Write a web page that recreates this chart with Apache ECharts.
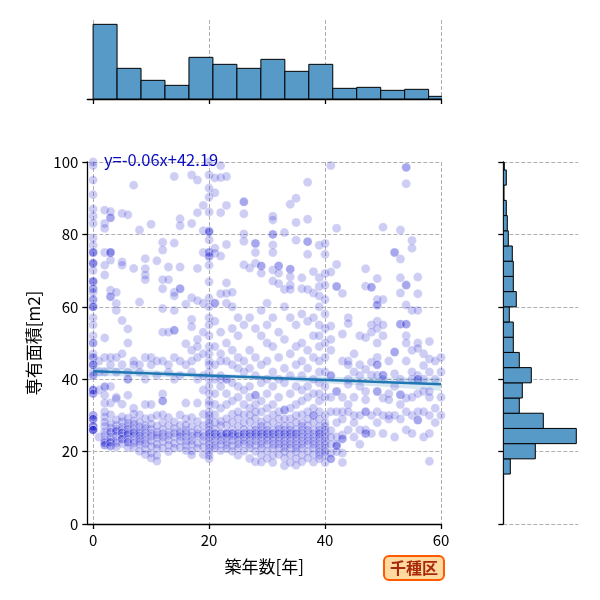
<!DOCTYPE html>
<html>
<head>
<meta charset="utf-8">
<script src="https://cdn.jsdelivr.net/npm/echarts@6/dist/echarts.min.js"></script>
<style>html,body{margin:0;padding:0;background:#fff}#main{width:600px;height:600px}</style>
</head>
<body>
<div id="main"></div>
<script>
const FONT = '"Noto Sans CJK JP", "Noto Sans", sans-serif';

// 築年数 -> 専有面積
const areasByAge = [
  [0, [100, 99, 95, 91, 87, 85, 83, 79, 77, 75, 75, 75, 72, 72, 72, 70, 67, 67, 67, 65, 65, 64, 62, 62, 60, 60, 60, 57, 55, 52, 50, 50, 47, 46, 46, 44, 44, 44, 42, 41, 41, 37, 37, 37, 36, 36, 30, 30, 29, 29, 29, 27, 27, 27, 26, 26, 26, 26]],
  [1, [45, 42, 37, 24]],
  [2, [86.7, 83, 81.7, 75, 71.5, 68.8, 51.4, 46, 42, 38, 37.8, 35.6, 33.4, 31, 29.6, 28.2, 27, 25.5, 24.6, 23.2, 22.5, 22.5, 21.8, 21.8]],
  [3, [86.3, 84.6, 84.6, 75, 75, 75, 72.9, 64.6, 62.8, 62.8, 46, 44, 38, 33.4, 30.2, 27.8, 26.6, 25.4, 25.4, 24.1, 23.3, 22.6, 22.6, 21.5, 21.5]],
  [4, [64, 60.9, 59, 46, 42, 35, 34.6, 28.8, 27.3, 26.2, 25.6, 25.6, 24.3, 23.1, 22.4, 21.3]],
  [5, [85.8, 72.4, 71.5, 56.2, 47, 44, 33.1, 29.6, 28.3, 26.8, 26.1, 25.2, 25.2, 24.4, 23.5, 23.5, 22.2]],
  [6, [85.4, 53.9, 50, 42, 40, 40, 35.6, 29.2, 27.9, 27.1, 26.2, 25.3, 24.8, 24.8, 23.4, 22.6, 22.6, 21.1]],
  [7, [93.6, 70.6, 45, 44, 32, 30.4, 28.5, 27.6, 26.4, 25.3, 25.3, 24.4, 23.2, 22.4, 21.2]],
  [8, [81.2, 61.3, 44, 42, 30.2, 28.1, 26.9, 25.8, 25.1, 24.4, 23.6, 22.8, 22, 20.1]],
  [9, [73.3, 70.5, 68.8, 67.5, 46, 40, 33, 29.1, 27.2, 26.4, 25.2, 24.3, 23.1, 22.2, 20.8, 19.2]],
  [10, [82.8, 46, 44, 33, 29.3, 27.6, 26.2, 25.1, 24.2, 22.9, 21.5, 19.6, 18.2]],
  [11, [72.7, 45, 41, 30, 27.1, 25.4, 24.6, 23.8, 22.1, 21, 19, 17.4]],
  [12, [77.8, 75.7, 67.5, 65, 59.5, 53, 45, 35.9, 34, 34, 30.2, 28.1, 26.2, 25, 24.1, 22.8, 21]],
  [13, [71, 67.5, 53, 44, 42, 29.4, 27.2, 25.3, 24.5, 23.2, 21.8, 20]],
  [14, [96, 77.6, 64, 63, 59, 53.5, 53.5, 46, 40, 28.2, 26.4, 25.2, 24.1, 22.3, 21]],
  [15, [84.3, 82.4, 71, 65, 65, 45, 41, 30.1, 27.3, 25.5, 25, 24.2, 23, 21.2]],
  [16, [60.7, 49.8, 44, 33.4, 29.1, 27.4, 26, 25.2, 24.1, 22.9, 21.7, 20.3]],
  [17, [96.4, 83, 62.5, 56.5, 54.5, 48, 45, 42, 29.4, 27.1, 25.3, 24.3, 23.1, 22, 20.2, 19.1]],
  [18, [95, 86, 70.6, 61.7, 51, 49, 46, 40, 33.4, 28.3, 26.2, 25, 24.4, 22.3, 21]],
  [19, [88, 81, 75, 61, 53, 47, 41, 37, 30.3, 27.2, 25.1, 24.2, 23, 21.3, 19.2]],
  [20, [100, 96.4, 92.8, 90.3, 86.2, 81, 80.7, 80.7, 78.5, 75.1, 75, 73.8, 74, 71.5, 66.9, 62.4, 60, 57, 55, 52, 49, 47, 45, 44, 42, 40, 38, 36, 34, 33, 31, 30, 29, 28, 27, 26, 25, 25, 24, 23, 22, 21, 20, 19, 18]],
  [21, [95.6, 91.5, 76.2, 74.8, 61, 61, 56, 49, 44, 40, 36, 33, 30.2, 28.1, 26.3, 25, 25, 24.1, 23, 21.8, 20.9]],
  [22, [99, 95.7, 86, 74, 63.6, 53, 47, 45, 41, 40, 38, 32, 28.4, 27.2, 25, 25, 24.2, 23.1, 22, 20.3]],
  [23, [96, 88, 77.2, 66.6, 63.7, 61, 50, 45, 40, 40, 36, 33, 29.1, 27.3, 25, 25, 25, 24, 22.8, 21.9, 20.8]],
  [24, [64, 60, 54, 48, 44, 39, 34, 30.3, 28.2, 26.1, 25, 25, 24.2, 23.1, 21.7, 20.1]],
  [25, [57, 52, 46, 43, 38, 35, 31, 29.2, 27.1, 25, 25, 24.3, 23.2, 22.1, 21, 19]],
  [26, [89, 89, 85.7, 80.1, 78.1, 71.6, 55, 45, 42, 37, 33, 30.2, 28, 26.2, 25, 25, 24.1, 23, 22.2, 20.2]],
  [27, [70.7, 57, 48, 43, 38, 35, 32, 30.1, 28.3, 26.1, 25, 25, 24.2, 23.1, 22, 21, 18.1]],
  [28, [77.5, 77.5, 75, 72, 54, 46, 41, 35.6, 35.6, 33, 31, 29.2, 27.1, 26, 25, 25, 24.1, 23, 21.8, 20.1, 17.2]],
  [29, [71.3, 71.3, 69.3, 59, 52, 44, 39, 34, 31, 28.2, 27.1, 26, 25, 25, 24.1, 23, 22, 21, 19.1, 17.1]],
  [30, [61, 55, 50, 45, 40, 36, 32, 29.1, 27.2, 26, 25, 25, 24, 23.1, 22, 20.2, 18.1]],
  [31, [85, 84, 80, 80, 77.1, 75, 70.2, 67.1, 57, 49, 42, 38, 33, 30.2, 28.1, 26, 25, 25, 24, 23.1, 22, 21, 19, 17]],
  [32, [71.3, 71.3, 69.3, 66.4, 53, 46, 40, 35, 31, 29.1, 27, 26.2, 25, 25, 24, 23, 22.1, 21, 19.2]],
  [33, [80.5, 64.8, 60, 51, 43, 39, 31.5, 31.5, 29, 27.2, 26, 25, 25, 24, 23, 22, 21.1, 20, 18.2, 16.1]],
  [34, [88.3, 70.4, 70.4, 68.3, 66, 64.8, 57, 47, 41, 36, 32, 29.1, 27.1, 26, 25, 25, 24, 23, 22, 21, 19.2, 17]],
  [35, [90, 83.3, 78.4, 55, 49, 44, 38, 33, 30, 28.1, 26.2, 25, 25, 24, 23, 22, 21, 20, 18.1, 16.2]],
  [36, [68, 65, 58, 50, 45, 41, 37, 34, 30.2, 28, 27, 26, 25, 24.1, 23, 22, 21, 19.1, 17.2]],
  [37, [94.4, 84.2, 78, 78, 74.5, 64.8, 56, 48, 43, 38, 35, 31, 29, 27.2, 26, 25, 24, 23, 22, 20.1, 18.2]],
  [38, [69.7, 63.8, 57, 52, 46, 40, 36, 32, 30, 30, 28.1, 26, 25, 24, 23, 22, 21, 19.2, 17.1]],
  [39, [77, 68, 65.6, 63, 60, 55, 52, 49, 45, 42, 39, 36, 34, 31, 29, 27, 26, 25, 25, 24, 23, 22, 21, 20, 19, 18]],
  [40, [77.5, 74.5, 69.2, 66, 62, 58, 54, 50, 46, 42, 38, 35, 30, 28, 27, 26, 25, 24, 23, 22, 21, 20, 19, 17]],
  [41, [99, 69.6, 54.7, 51, 48, 41, 41, 35, 31, 25.8, 24, 22, 19.6, 18, 18]],
  [42, [81.7, 71.7, 65.6, 65.6, 36.6, 36.6, 31, 28, 24, 22, 21.6, 21.6, 20]],
  [43, [63.7, 52.5, 45, 35, 31, 29, 24.6, 23.5, 23.5, 19.6, 17]],
  [44, [57, 55.4, 45, 44, 40, 38.6, 33, 31, 26]],
  [45, [47, 42, 35, 30, 28, 24]],
  [46, [52, 44, 41, 38, 30, 26, 22]],
  [47, [70.5, 65.7, 51.5, 42.7, 36.6, 34.3, 31, 31, 26, 25, 25]],
  [48, [65.4, 65.4, 55, 53, 44.7, 41.1, 30, 25]],
  [49, [67.8, 62, 60.5, 60.5, 56, 54, 50, 46, 44, 44, 41.1, 36.6, 36.6, 31, 28]],
  [50, [82, 62, 55, 52, 41.1, 41.1, 40, 34.8, 30, 25]],
  [51, [45, 36, 34.3, 30, 29]],
  [52, [75, 75, 47.5, 47.5, 41.5, 38, 30, 24]],
  [53, [81.2, 73.2, 68, 63.8, 55.2, 55.2, 40, 35.7, 35.7, 33, 29]],
  [54, [98.5, 98.5, 94, 66, 66, 60.5, 55.2, 55.2, 52, 50, 45, 34.8, 31, 26]],
  [55, [78.3, 76.2, 59, 48, 42, 40, 35, 30, 25]],
  [56, [68.2, 63.6, 59, 50, 48.5, 41, 40, 40, 36, 31, 28.7, 28.7]],
  [57, [47, 43.8, 40, 36.6, 31, 24]],
  [58, [50.4, 45.6, 42, 36.6, 35, 30, 25, 17.3]],
  [59, [45, 40, 32, 28]],
  [60, [46, 42, 35, 30]]
];

const ageTicks = [0, 20, 40, 60];
const ageBinWidth = 62 / 15;
const ageCounts = [224, 92, 56, 41, 125, 104, 92, 119, 83, 104, 32, 35, 26, 29, 8];
const areaBinStart = 13.8;
const areaBinWidth = 4.2;
const areaCounts = [21, 96, 219, 120, 48, 57, 84, 48, 30, 30, 18, 39, 30, 30, 27, 15, 12, 9, 2, 9, 3];
const fitSlope = -0.06;
const fitIntercept = 42.19;
const bandAges = [0, 10, 20, 30, 40, 50, 60];
const bandHalf = [1.3, 0.9, 0.6, 0.6, 0.9, 1.3, 1.8];
const wardName = '千種区';

const points = [];
areasByAge.forEach(([age, list]) => list.forEach(a => points.push([age, a])));
const fit = x => fitSlope * x + fitIntercept;

const gridLine = { show: true, lineStyle: { color: '#b0b0b0', type: [4, 2], width: 1 } };
const spine = { show: true, onZero: false, lineStyle: { color: '#000', width: 1.3 } };
const tick = { show: true, length: 5, lineStyle: { color: '#000', width: 1.3 } };
const label = { color: '#000', fontSize: 15, fontFamily: FONT, margin: 9 };

function histRect(horizontal) {
  return function (params, api) {
    const a = api.value(0), b = api.value(1), c = api.value(2);
    let p0, p1;
    if (horizontal) {
      p0 = api.coord([0, a]);
      p1 = api.coord([c, b]);
    } else {
      p0 = api.coord([a, 0]);
      p1 = api.coord([b, c]);
    }
    return {
      type: 'rect',
      shape: {
        x: Math.min(p0[0], p1[0]), y: Math.min(p0[1], p1[1]),
        width: Math.abs(p1[0] - p0[0]), height: Math.abs(p1[1] - p0[1])
      },
      style: { fill: '#5799c7', stroke: '#000', lineWidth: 1 }
    };
  };
}

const chart = echarts.init(document.getElementById('main'));
chart.setOption({
  animation: false,
  grid: [
    { left: 87.3, top: 162, width: 353.7, height: 362, outerBoundsMode: 'none' },
    { left: 87.3, top: 20, width: 353.7, height: 79, outerBoundsMode: 'none' },
    { left: 503.3, top: 162, width: 75, height: 362, outerBoundsMode: 'none' }
  ],
  xAxis: [
    {
      gridIndex: 0, type: 'value', min: -1, max: 60,
      axisLine: spine,
      axisTick: Object.assign({ customValues: ageTicks }, tick),
      axisLabel: Object.assign({ customValues: ageTicks }, label),
      splitLine: gridLine,
      name: '築年数[年]', nameLocation: 'middle', nameGap: 34,
      nameTextStyle: { color: '#000', fontSize: 17, fontFamily: FONT }
    },
    {
      gridIndex: 1, type: 'value', min: -1, max: 60,
      axisLine: spine,
      axisTick: Object.assign({ customValues: ageTicks }, tick),
      axisLabel: { show: false, customValues: ageTicks },
      splitLine: gridLine
    },
    { gridIndex: 2, type: 'value', min: 0, max: 225, show: false }
  ],
  yAxis: [
    {
      gridIndex: 0, type: 'value', min: 0, max: 100, interval: 20,
      axisLine: spine, axisTick: tick, axisLabel: label, splitLine: gridLine,
      name: '専有面積[m2]', nameLocation: 'middle', nameGap: 44, nameRotate: 90,
      nameTextStyle: { color: '#000', fontSize: 17, fontFamily: FONT }
    },
    { gridIndex: 1, type: 'value', min: 0, max: 237, show: false },
    {
      gridIndex: 2, type: 'value', min: 0, max: 100, interval: 20,
      axisLine: spine, axisTick: tick, axisLabel: { show: false }, splitLine: gridLine
    }
  ],
  series: [
    {
      type: 'scatter', xAxisIndex: 0, yAxisIndex: 0, data: points,
      symbolSize: 9, silent: true,
      itemStyle: { color: 'rgba(0,0,205,0.24)', borderColor: 'rgba(255,255,255,0.3)', borderWidth: 1 }
    },
    {
      type: 'custom', xAxisIndex: 0, yAxisIndex: 0, data: [[0, 0]], silent: true, z: 3,
      renderItem: function (params, api) {
        const upper = bandAges.map((a, i) => api.coord([a, fit(a) + bandHalf[i]]));
        const lower = bandAges.map((a, i) => api.coord([a, fit(a) - bandHalf[i]])).reverse();
        return { type: 'polygon', shape: { points: upper.concat(lower) }, style: { fill: 'rgba(31,119,180,0.18)' } };
      }
    },
    {
      type: 'line', xAxisIndex: 0, yAxisIndex: 0, z: 4, showSymbol: false, silent: true,
      data: [[0, fit(0)], [60, fit(60)]],
      lineStyle: { color: '#1f77b4', width: 2.5 }
    },
    {
      type: 'custom', xAxisIndex: 1, yAxisIndex: 1, clip: true, silent: true,
      data: ageCounts.map((c, i) => [i * ageBinWidth, (i + 1) * ageBinWidth, c]),
      renderItem: histRect(false)
    },
    {
      type: 'custom', xAxisIndex: 2, yAxisIndex: 2, clip: true, silent: true,
      encode: { x: 2, y: [0, 1] },
      data: areaCounts.map((c, i) => [areaBinStart + i * areaBinWidth, areaBinStart + (i + 1) * areaBinWidth, c]),
      renderItem: histRect(true)
    }
  ],
  graphic: [
    {
      type: 'text', left: 104, top: 151, z: 10,
      style: { text: 'y=' + fitSlope + 'x+' + fitIntercept, fill: '#0c0cc0', font: '16.5px ' + FONT }
    },
    {
      type: 'text', left: 383, top: 555, z: 10,
      style: {
        text: wardName, fill: '#a8280a', font: 'bold 16px ' + FONT,
        backgroundColor: '#ffd9a0', borderColor: '#ff5a00', borderWidth: 2, borderRadius: 4,
        padding: [3, 5]
      }
    }
  ]
});
</script>
</body>
</html>
